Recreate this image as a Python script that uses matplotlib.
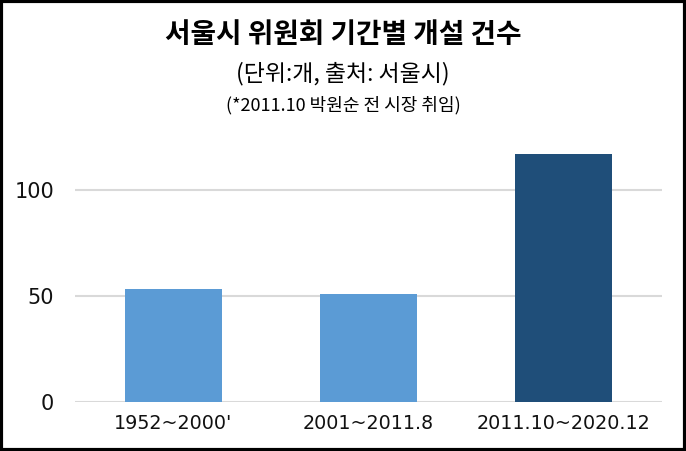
import matplotlib.pyplot as plt
from matplotlib.patches import Rectangle

plt.rcParams['font.family'] = ['Noto Sans CJK KR', 'DejaVu Sans']

periods = ["1952~2000'", "2001~2011.8", "2011.10~2020.12"]
counts = [53, 51, 117]
bar_colors = ["#5B9BD5", "#5B9BD5", "#1F4E79"]
yticks = [0, 50, 100]

fig = plt.figure(figsize=(6.86, 4.51), dpi=100)
ax = fig.add_axes([0.109, 0.109, 0.856, 0.564])

ax.bar(range(len(periods)), counts, width=0.5, color=bar_colors, zorder=3)
ax.set_xlim(-0.505, 2.505)
ax.set_ylim(0, 120)
ax.set_yticks(yticks)
ax.set_yticklabels([str(v) for v in yticks], fontsize=15, family="DejaVu Sans",
                   color="#111111")
ax.set_xticks(range(len(periods)))
ax.set_xticklabels(periods, fontsize=13.8, family="DejaVu Sans", color="#111111")
ax.tick_params(axis="y", length=0, pad=15)
ax.tick_params(axis="x", length=0, pad=9)
ax.yaxis.grid(True, color="#D9D9D9", linewidth=1.5, zorder=0)
for s in ax.spines.values():
    s.set_visible(False)

fig.text(0.5, 0.922, "서울시 위원회 기간별 개설 건수", ha="center", va="center",
         fontsize=20, fontweight="bold")
fig.text(0.5, 0.836, "(단위:개, 출처: 서울시)", ha="center", va="center", fontsize=16.5)
fig.text(0.5, 0.767, "(*2011.10 박원순 전 시장 취임)", ha="center", va="center", fontsize=13)

fig.patches.append(Rectangle((0.002, 0.003), 0.996, 0.994, transform=fig.transFigure,
                             fill=False, edgecolor="black", linewidth=3))

fig.savefig("out.png", dpi=100)
